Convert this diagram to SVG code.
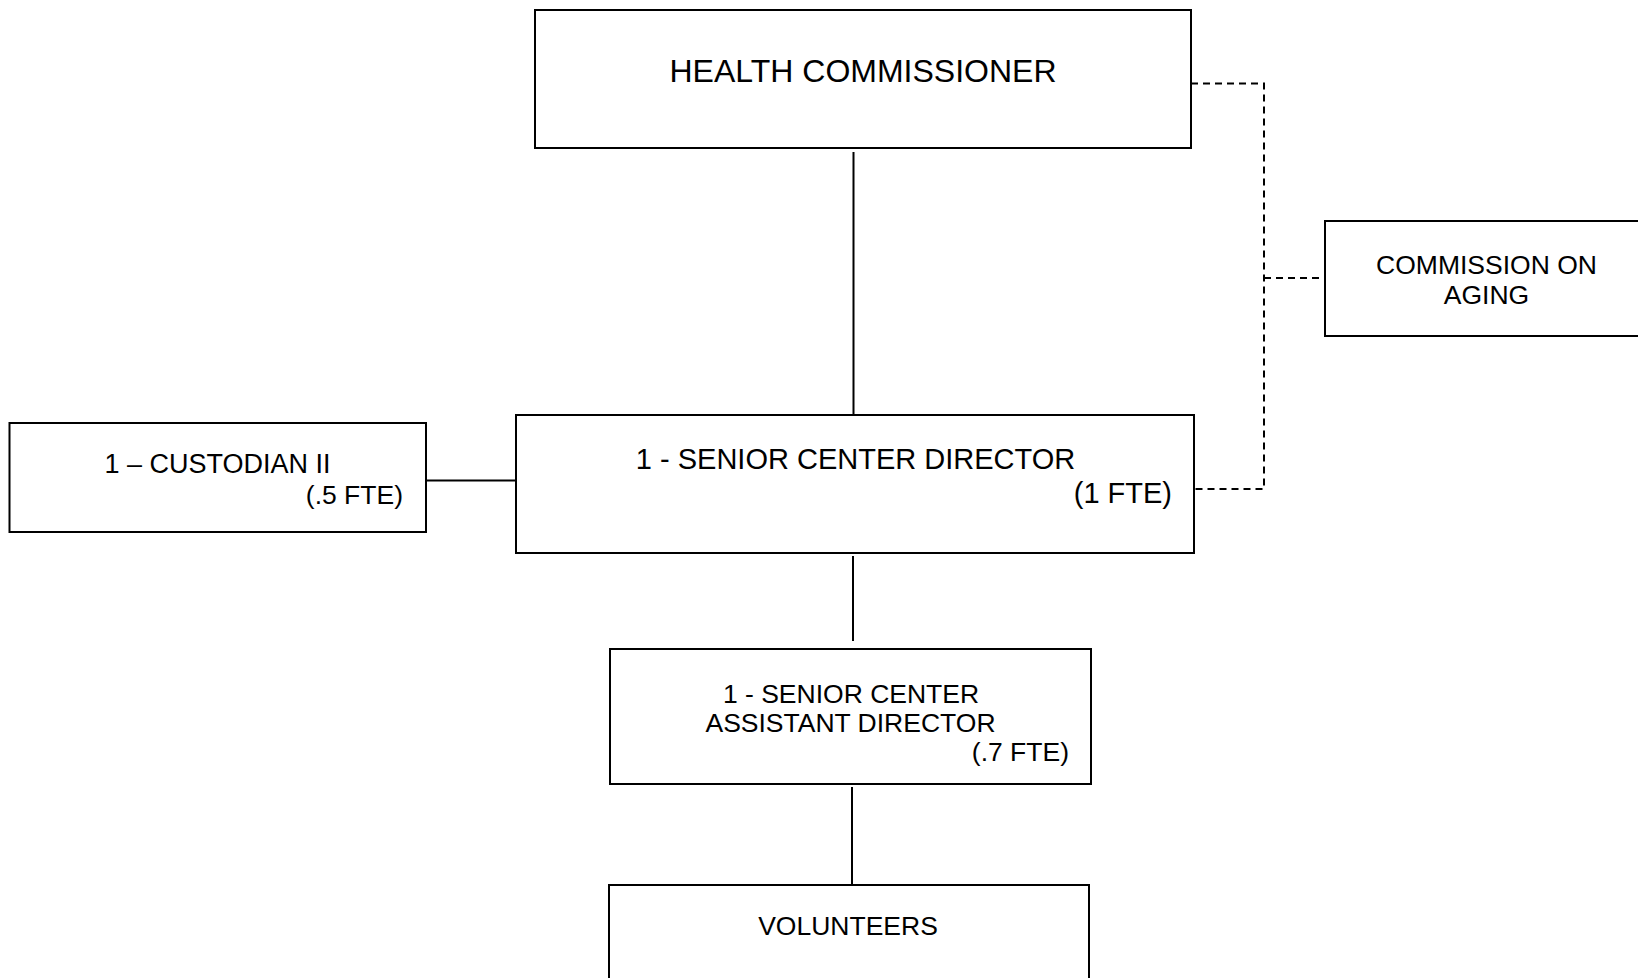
<svg xmlns="http://www.w3.org/2000/svg" width="1638" height="978" viewBox="0 0 1638 978">
<style>
.box{fill:#fff;stroke:#000;stroke-width:2}
.ln{fill:none;stroke:#000;stroke-width:2}
.dash{fill:none;stroke:#000;stroke-width:2;stroke-dasharray:7 5}
text{font-family:"Liberation Sans",Arial,sans-serif;fill:#000}
.c{text-anchor:middle}
.r{text-anchor:end}
</style>
<rect width="1638" height="978" fill="#fff"/>
<g id="connectors">
<line class="ln" x1="853.5" y1="152" x2="853.5" y2="415"/>
<line class="ln" x1="853" y1="556" x2="853" y2="641"/>
<line class="ln" x1="852" y1="787" x2="852" y2="884"/>
<line class="ln" x1="426" y1="480.5" x2="516" y2="480.5"/>
<polyline class="dash" points="1191,83.5 1264,83.5 1264,489 1194,489"/>
<line class="dash" x1="1264" y1="278" x2="1325" y2="278"/>
</g>
<g id="health-commissioner">
<rect class="box" x="535" y="10" width="656" height="138"/>
<text class="c" x="863" y="82" font-size="32">HEALTH COMMISSIONER</text>
</g>
<g id="commission-on-aging">
<rect class="box" x="1325" y="221" width="330" height="115"/>
<text class="c" x="1486.5" y="273.5" font-size="26.5">COMMISSION ON</text>
<text class="c" x="1486.5" y="304" font-size="26.5">AGING</text>
</g>
<g id="custodian">
<rect class="box" x="9.5" y="423" width="416.5" height="109"/>
<text class="c" x="217.5" y="473" font-size="27">1 – CUSTODIAN II</text>
<text class="r" x="403" y="504" font-size="26.5">(.5 FTE)</text>
</g>
<g id="senior-center-director">
<rect class="box" x="516" y="415" width="678" height="138"/>
<text class="c" x="855.5" y="469" font-size="29">1 - SENIOR CENTER DIRECTOR</text>
<text class="r" x="1172" y="503" font-size="29">(1 FTE)</text>
</g>
<g id="assistant-director">
<rect class="box" x="610" y="649" width="481" height="135"/>
<text class="c" x="851" y="703" font-size="26.5">1 - SENIOR CENTER</text>
<text class="c" x="850.5" y="732" font-size="26.5">ASSISTANT DIRECTOR</text>
<text class="r" x="1069" y="761" font-size="26.5">(.7 FTE)</text>
</g>
<g id="volunteers">
<rect class="box" x="609" y="885" width="480" height="110"/>
<text class="c" x="848" y="935" font-size="26.5">VOLUNTEERS</text>
</g>
</svg>
